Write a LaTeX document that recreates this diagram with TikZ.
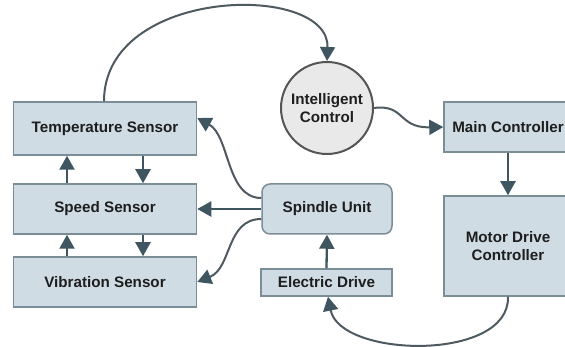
\documentclass[tikz,border=0pt]{standalone}
\usepackage{fontspec}
\setmainfont{Liberation Sans}
\usetikzlibrary{arrows.meta}
\definecolor{boxfill}{HTML}{D0DCE3}
\definecolor{boxdraw}{HTML}{7B8E98}
\definecolor{arrcol}{HTML}{3F5661}
\definecolor{curvecol}{HTML}{4E5A60}
\definecolor{circfill}{HTML}{E9E9E9}
\definecolor{circdraw}{HTML}{555555}
\definecolor{txt}{HTML}{1E1E1E}
\begin{document}
\begin{tikzpicture}[x=1pt,y=-1pt,
  box/.style={rectangle, draw=boxdraw, fill=boxfill, line width=1.5pt,
    inner sep=0pt, align=center, text=txt,
    font=\bfseries\fontsize{15.2}{18}\selectfont},
  roundbox/.style={box, rounded corners=8pt},
  circ/.style={circle, draw=circdraw, fill=circfill, line width=2pt,
    minimum size=92pt, inner sep=0pt, align=center, text=txt,
    font=\bfseries\fontsize{15.2}{18}\selectfont},
  link/.style={draw=arrcol, line width=2.3pt,
    -{Triangle[length=14pt,width=15pt]}},
  curvelink/.style={draw=curvecol, line width=2pt,
    -{Triangle[length=14pt,width=15pt,color=arrcol]}}
]
\useasboundingbox (0,0) rectangle (565,347);
\clip (0,0) rectangle (565,347);

\node[box, minimum width=183pt, minimum height=53pt] (temp) at (105,128.5) {Temperature Sensor};
\node[box, minimum width=183pt, minimum height=50pt] (speed) at (105,209) {Speed Sensor};
\node[box, minimum width=183pt, minimum height=50pt] (vib) at (105,282) {Vibration Sensor};
\node[roundbox, minimum width=130pt, minimum height=50pt] (spin) at (327,209) {Spindle Unit};
\node[box, minimum width=131pt, minimum height=27pt] (elec) at (326.5,282.5) {Electric Drive};
\node[box, minimum width=128pt, minimum height=50pt] (main) at (508,127) {Main Controller};
\node[box, minimum width=128pt, minimum height=100pt] (motor) at (508,246) {Motor Drive\\Controller};
\node[circ] (ic) at (327,108) {Intelligent\\Control};

% sensor chain
\draw[link] ([xshift=-38pt]speed.north) -- ([xshift=-38pt]temp.south);
\draw[link] ([xshift=38pt]temp.south) -- ([xshift=38pt]speed.north);
\draw[link] ([xshift=-38pt]vib.north) -- ([xshift=-38pt]speed.south);
\draw[link] ([xshift=38pt]speed.south) -- ([xshift=38pt]vib.north);

% spindle to sensors
\draw[link] (spin.west) -- (speed.east);
\draw[curvelink] ([yshift=11pt]spin.west) .. controls (226,198) and (230,136) .. ([yshift=10.5pt]temp.east);
\draw[curvelink] ([yshift=-10pt]spin.west) .. controls (226,219) and (232,268) .. (vib.east);

% top arc
\draw[curvelink] ([xshift=-1pt]temp.north) .. controls (104,-14) and (330,-18) .. (ic.north);

% intelligent control to main
\draw[curvelink] (ic.east) .. controls (405,104) and (398,128) .. (main.west);

% main to motor
\draw[link] (main.south) -- (motor.north);

% motor to electric
\draw[curvelink] (motor.south) .. controls (510,362) and (340,358) .. ([xshift=1.5pt]elec.south);

% electric to spindle
\draw[link] (elec.north) -- (spin.south);
\end{tikzpicture}
\end{document}
